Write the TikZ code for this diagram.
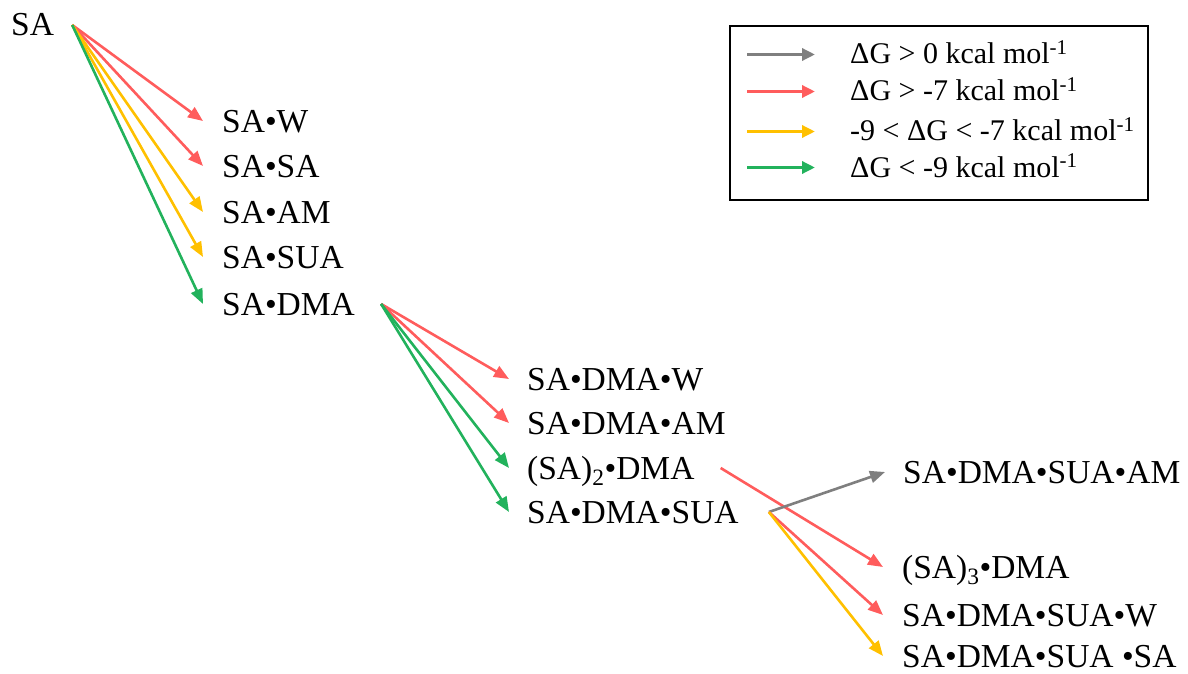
\documentclass[tikz,border=0pt]{standalone}
\usepackage{fontspec}
\setmainfont{Liberation Serif}
\usetikzlibrary{arrows.meta}
\definecolor{dgray}{RGB}{127,127,127}
\definecolor{dred}{RGB}{255,92,92}
\definecolor{dyel}{RGB}{255,192,0}
\definecolor{dgrn}{RGB}{34,178,92}
\begin{document}
\begin{tikzpicture}[x=1pt,y=-1pt,
    mol/.style={inner sep=0pt,anchor=base west,text height=22pt,text depth=0pt,font=\fontsize{33.5}{40}\selectfont},
    key/.style={inner sep=0pt,anchor=base west,text height=19pt,text depth=0pt,font=\fontsize{30}{36}\selectfont},
    arr/.style={line width=2.6pt,-{Triangle[length=15pt,width=12pt]}},
    leg/.style={line width=3.5pt,-{Triangle[length=13pt,width=12pt]}}]
    \useasboundingbox (0,0) rectangle (1188,674);
    % molecules
    \node[mol] (sa) at (11,36) {SA};
    \node[mol] (saw) at (222,132) {SA•W};
    \node[mol] (sasa) at (222,177) {SA•SA};
    \node[mol] (saam) at (222,223) {SA•AM};
    \node[mol] (sasua) at (222,268) {SA•SUA};
    \node[mol] (sadma) at (222,315) {SA•DMA};
    \node[mol] (dmaw) at (527,390) {SA•DMA•W};
    \node[mol] (dmaam) at (527,434) {SA•DMA•AM};
    \node[mol] (satwo) at (527,479) {(SA)\textsubscript{2}•DMA};
    \node[mol] (dmasua) at (527,523) {SA•DMA•SUA};
    \node[mol] (suaam) at (903,483) {SA•DMA•SUA•AM};
    \node[mol] (sathree) at (902,578) {(SA)\textsubscript{3}•DMA};
    \node[mol] (suaw) at (902,626) {SA•DMA•SUA•W};
    \node[mol] (suasa) at (902,667) {SA•DMA•SUA •SA};
    % arrows
    \draw[arr,dred] ([xshift=18pt]sa.east) -- ([xshift=-19pt]saw.west);
    \draw[arr,dred] ([xshift=18pt]sa.east) -- ([xshift=-19pt]sasa.west);
    \draw[arr,dyel] ([xshift=18pt]sa.east) -- ([xshift=-19pt]saam.west);
    \draw[arr,dyel] ([xshift=18pt]sa.east) -- ([xshift=-19pt]sasua.west);
    \draw[arr,dgrn] ([xshift=18pt]sa.east) -- ([xshift=-19pt]sadma.west);
    \draw[arr,dred] ([xshift=26pt]sadma.east) -- ([xshift=-18pt]dmaw.west);
    \draw[arr,dred] ([xshift=26pt]sadma.east) -- ([xshift=-18pt]dmaam.west);
    \draw[arr,dgrn] ([xshift=26pt]sadma.east) -- ([xshift=-18pt]satwo.west);
    \draw[arr,dgrn] ([xshift=26pt]sadma.east) -- ([xshift=-18pt]dmasua.west);
    \draw[arr,dred] ([xshift=26pt]satwo.east) -- ([xshift=-19pt]sathree.west);
    \draw[arr,dgray] ([xshift=30pt]dmasua.east) -- ([xshift=-18pt]suaam.west);
    \draw[arr,dred] ([xshift=30pt]dmasua.east) -- ([xshift=-19pt]suaw.west);
    \draw[arr,dyel] ([xshift=30pt]dmasua.east) -- ([xshift=-19pt]suasa.west);
    % legend
    \draw[line width=2pt] (730,26) rectangle (1148,200);
    \node[key] (kzero) at (850,64) {ΔG > 0 kcal mol\textsuperscript{-1}};
    \node[key] (kseven) at (850,101) {ΔG > -7 kcal mol\textsuperscript{-1}};
    \node[key] (kmid) at (850,141) {-9 < ΔG < -7 kcal mol\textsuperscript{-1}};
    \node[key] (knine) at (850,177) {ΔG < -9 kcal mol\textsuperscript{-1}};
    \draw[leg,dgray] ([xshift=-103pt]kzero.west) -- ([xshift=-35pt]kzero.west);
    \draw[leg,dred] ([xshift=-103pt]kseven.west) -- ([xshift=-35pt]kseven.west);
    \draw[leg,dyel] ([xshift=-103pt]kmid.west) -- ([xshift=-35pt]kmid.west);
    \draw[leg,dgrn] ([xshift=-103pt]knine.west) -- ([xshift=-35pt]knine.west);
\end{tikzpicture}
\end{document}
